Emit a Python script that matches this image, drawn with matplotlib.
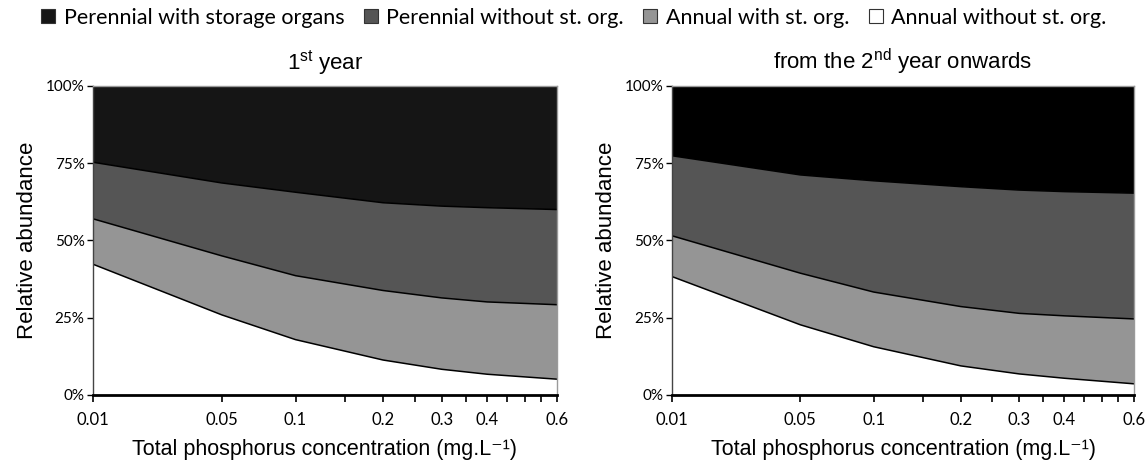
import numpy as np
import matplotlib
matplotlib.use("Agg")
import matplotlib.pyplot as plt
from matplotlib.patches import Patch

# ---------------- data ----------------
phosphorus = [0.01, 0.05, 0.1, 0.2, 0.3, 0.4, 0.6]
series_names = ["Perennial with storage organs", "Perennial without st. org.",
                "Annual with st. org.", "Annual without st. org."]

# 1st year (percent)
y1_annual_without = [42.3, 25.9, 17.9, 11.3, 8.3, 6.7, 5.1]
y1_annual_with = [14.7, 19.1, 20.7, 22.5, 23.1, 23.4, 24.1]
y1_perennial_without = [18.3, 23.6, 27.0, 28.4, 29.7, 30.5, 30.8]
y1_perennial_with = [24.7, 31.4, 34.4, 37.8, 38.9, 39.4, 40.0]

# from the 2nd year onwards (percent)
y2_annual_without = [38.3, 22.7, 15.6, 9.4, 6.8, 5.4, 3.6]
y2_annual_with = [13.2, 16.7, 17.7, 19.2, 19.6, 20.2, 21.0]
y2_perennial_without = [25.9, 31.8, 36.0, 38.8, 39.9, 40.2, 40.7]
y2_perennial_with = [22.6, 28.8, 30.7, 32.6, 33.7, 34.2, 34.7]

x_ticks = [0.01, 0.05, 0.1, 0.15, 0.2, 0.25, 0.3, 0.35, 0.4, 0.45, 0.5, 0.55, 0.6]
x_tick_labels = ["0.01", "0.05", "0.1", "", "0.2", "", "0.3", "", "0.4", "", "", "", "0.6"]
y_ticks = [0, 25, 50, 75, 100]
y_tick_labels = ["0%", "25%", "50%", "75%", "100%"]

titles = ["1$^{\\rm st}$ year", "from the 2$^{\\rm nd}$ year onwards"]
xlabel = "Total phosphorus concentration (mg.L\u207b\u00b9)"
ylabel = "Relative abundance"

# ---------------- style ----------------
plt.rcParams['font.family'] = ['Liberation Sans', 'DejaVu Sans']
plt.rcParams['mathtext.fontset'] = 'custom'
plt.rcParams['mathtext.rm'] = 'Liberation Sans'
plt.rcParams['mathtext.it'] = 'Liberation Sans:italic'
plt.rcParams['mathtext.bf'] = 'Liberation Sans:bold'

narrow = ['Lato', 'Liberation Sans', 'DejaVu Sans']

col_black_left = "#151515"
col_black_right = "#000000"
col_dark = "#555555"
col_light = "#959595"
col_white = "#ffffff"

fig = plt.figure(figsize=(11.48, 4.63), dpi=100)
ax1 = fig.add_axes([0.081, 0.147, 0.4042, 0.6674])
ax2 = fig.add_axes([0.5854, 0.147, 0.4024, 0.6674])


def fwd(x):
    x = np.asarray(x, dtype=float)
    return np.sign(x) * np.abs(x) ** 0.25


def inv(y):
    y = np.asarray(y, dtype=float)
    return np.sign(y) * np.abs(y) ** 4


def draw(ax, aw_o, aw, pw_o, pw, top_col, title):
    x = np.array(phosphorus)
    layers = [np.array(aw_o), np.array(aw), np.array(pw_o), np.array(pw)]
    ax.set_xscale('function', functions=(fwd, inv))
    ax.stackplot(x, *layers, colors=[col_white, col_light, col_dark, top_col],
                 linewidth=0, edgecolor='none')
    cum = np.cumsum(layers, axis=0)
    for k in range(3):
        ax.plot(x, cum[k], color='black', lw=1.1, solid_joinstyle='round')
    ax.set_xlim(0.01, 0.6)
    ax.set_ylim(0, 100)
    ax.set_xticks(x_ticks)
    ax.set_xticklabels(x_tick_labels, fontfamily=narrow, fontsize=12)
    ax.xaxis.set_minor_locator(matplotlib.ticker.NullLocator())
    ax.set_yticks(y_ticks)
    ax.set_yticklabels(y_tick_labels, fontfamily=narrow, fontsize=11)
    ax.tick_params(axis='x', direction='out', length=5, width=1.2, pad=7, colors='black')
    ax.tick_params(axis='y', direction='out', length=4, width=1, pad=2, colors='black')
    for s in ['top', 'right']:
        ax.spines[s].set_color('#9a9a9a')
        ax.spines[s].set_linewidth(1)
    ax.spines['left'].set_color('#444444')
    ax.spines['left'].set_linewidth(1)
    ax.spines['bottom'].set_color('black')
    ax.spines['bottom'].set_linewidth(2)
    ax.set_title(title, fontsize=16, pad=12)
    ax.set_xlabel(xlabel, fontsize=15.5, labelpad=8)
    ax.set_ylabel(ylabel, fontsize=16, labelpad=6)


draw(ax1, y1_annual_without, y1_annual_with, y1_perennial_without, y1_perennial_with,
     col_black_left, titles[0])
draw(ax2, y2_annual_without, y2_annual_with, y2_perennial_without, y2_perennial_with,
     col_black_right, titles[1])

handles = [Patch(facecolor=c, edgecolor='#333333', linewidth=0.8)
           for c in [col_black_left, col_dark, col_light, col_white]]
fig.legend(handles, series_names, loc='upper center', bbox_to_anchor=(0.5, 1.025),
           ncol=4, frameon=False, handlelength=0.65, handleheight=0.65,
           handletextpad=0.4, columnspacing=0.9,
           prop={'family': narrow, 'size': 15.5})

fig.savefig("out.png", dpi=100)
